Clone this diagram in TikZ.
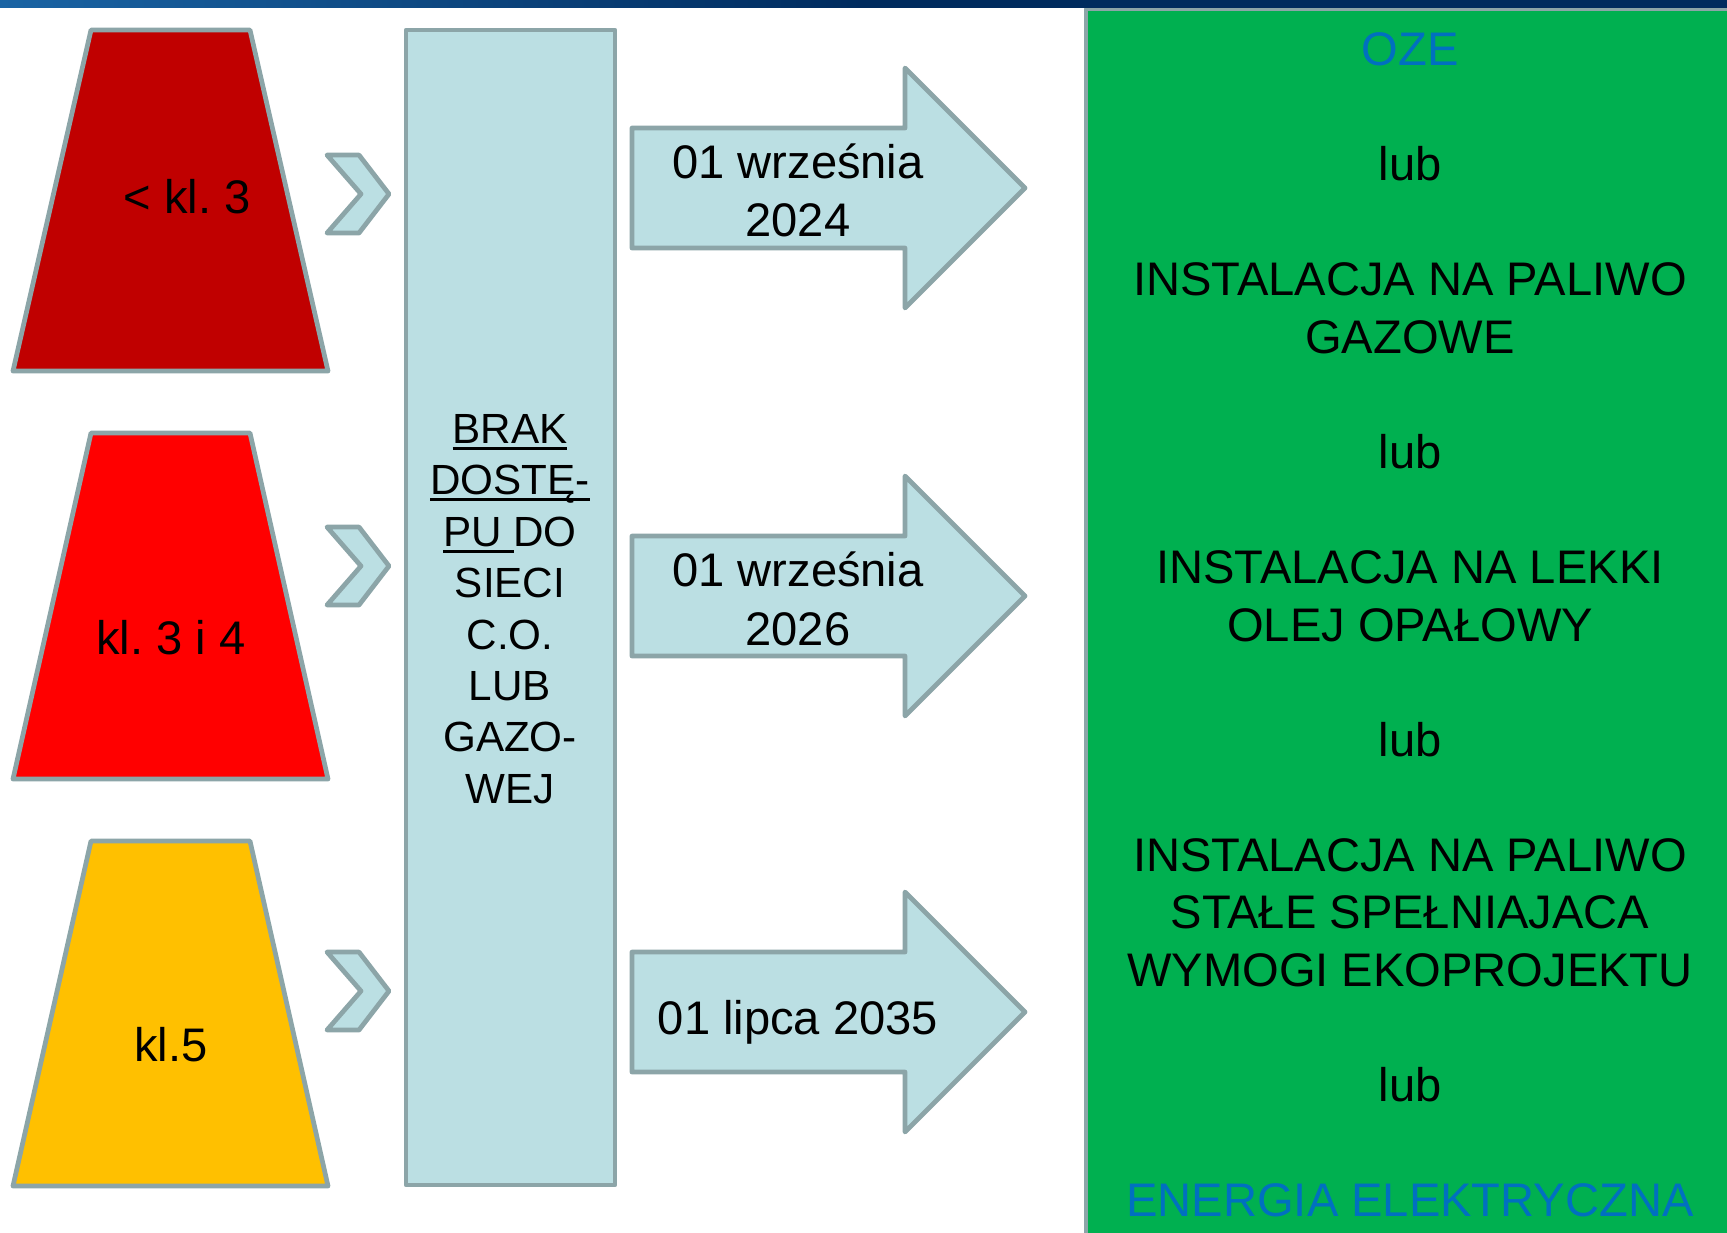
\documentclass[tikz,border=0pt]{standalone}
\usepackage{fontspec}
\setmainfont{Liberation Sans}
\frenchspacing
\definecolor{edgegrey}{HTML}{8CA5A8}
\definecolor{panefill}{HTML}{BBDFE3}
\definecolor{klred}{HTML}{C00000}
\definecolor{klbright}{HTML}{FF0000}
\definecolor{klyellow}{HTML}{FFC000}
\definecolor{ozegreen}{HTML}{00B050}
\definecolor{ozeblue}{HTML}{0070C0}
\definecolor{barlight}{HTML}{1A64A4}
\definecolor{bardark}{HTML}{002B5E}
\newsavebox\ulsave
\newcommand{\lineunder}[1]{\sbox\ulsave{#1}\rlap{\rule[-1.8pt]{\wd\ulsave}{0.8pt}}\usebox\ulsave}
\tikzset{
  outline/.style={draw=edgegrey, line width=1.35pt, line join=round},
  bigtext/.style={font=\fontsize{13.4}{16.5}\selectfont, anchor=base, inner sep=0pt},
  midtext/.style={font=\fontsize{12}{14.6}\selectfont, align=center, inner sep=0pt},
}

\begin{document}
\begin{tikzpicture}[x=0.01cm, y=-0.01cm]
\useasboundingbox (0,0) rectangle (1727,1232);

\draw[outline, fill=ozegreen] (1086,9) rectangle (1750,1250);
\shade[left color=barlight, right color=bardark, middle color=bardark] (0,0) rectangle (1727,7);

\draw[outline, fill=klred] (91,30) -- (250,30) -- (328,371) -- (13,371) -- cycle;
\draw[outline, fill=klbright] (91,433) -- (250,433) -- (328,779) -- (13,779) -- cycle;
\draw[outline, fill=klyellow] (91,841) -- (250,841) -- (328,1186) -- (13,1186) -- cycle;
\node[bigtext] (klA) at (187,213) {< kl. 3};
\node[bigtext] (klB) at (171,654) {kl. 3 i 4};
\node[bigtext] (klC) at (171,1061) {kl.5};

\draw[outline, fill=panefill] (327,155) -- (359,155) -- (389,194) -- (359,233) -- (327,233) -- (361,194) -- cycle;
\draw[outline, fill=panefill] (327,527) -- (359,527) -- (389,566) -- (359,605) -- (327,605) -- (361,566) -- cycle;
\draw[outline, fill=panefill] (327,952) -- (359,952) -- (389,991) -- (359,1030) -- (327,1030) -- (361,991) -- cycle;

\draw[outline, fill=panefill] (406,30) rectangle (615,1185);
\node[midtext] (brak) at (510,609) {\lineunder{BRAK}\\ \lineunder{DOSTĘ-}\\ \lineunder{PU\ }DO\\ SIECI\\ C.O.\\ LUB\\ GAZO-\\ WEJ};

\draw[outline, fill=panefill] (632,128) -- (905,128) -- (905,68) -- (1025,188) -- (905,308) -- (905,248) -- (632,248) -- cycle;
\draw[outline, fill=panefill] (632,536) -- (905,536) -- (905,476) -- (1025,596) -- (905,716) -- (905,656) -- (632,656) -- cycle;
\draw[outline, fill=panefill] (632,952) -- (905,952) -- (905,892) -- (1025,1012) -- (905,1132) -- (905,1072) -- (632,1072) -- cycle;
\node[bigtext] (dateAa) at (798,178) {01 września};
\node[bigtext] (dateAb) at (798,236) {2024};
\node[bigtext] (dateBa) at (798,586) {01 września};
\node[bigtext] (dateBb) at (798,645) {2026};
\node[bigtext] (dateC) at (798,1034) {01 lipca 2035};

\node[bigtext, text=ozeblue] (oze) at (1410,65.5) {OZE};
\node[bigtext] (lubA) at (1410,180.6) {lub};
\node[bigtext] (gasA) at (1410,295.7) {INSTALACJA NA PALIWO};
\node[bigtext] (gasB) at (1410,353.3) {GAZOWE};
\node[bigtext] (lubB) at (1410,468.4) {lub};
\node[bigtext] (oilA) at (1410,583.5) {INSTALACJA NA LEKKI};
\node[bigtext] (oilB) at (1410,641) {OLEJ OPAŁOWY};
\node[bigtext] (lubC) at (1410,756.1) {lub};
\node[bigtext] (solidA) at (1410,871.2) {INSTALACJA NA PALIWO};
\node[bigtext] (solidB) at (1410,928.8) {STAŁE SPEŁNIAJACA};
\node[bigtext] (solidC) at (1410,986.3) {WYMOGI EKOPROJEKTU};
\node[bigtext] (lubD) at (1410,1101.4) {lub};
\node[bigtext, text=ozeblue] (elec) at (1410,1216.5) {ENERGIA ELEKTRYCZNA};
\end{tikzpicture}
\end{document}
